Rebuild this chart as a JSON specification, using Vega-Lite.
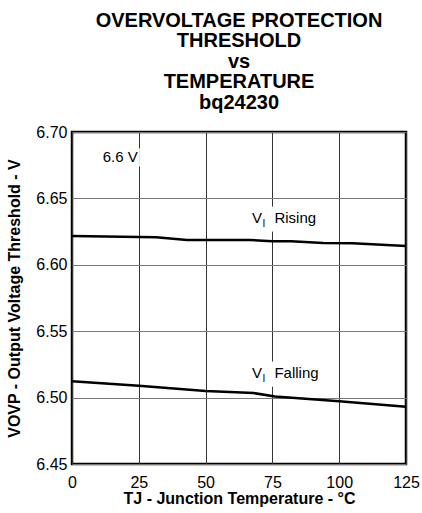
{
  "$schema": "https://vega.github.io/schema/vega-lite/v6.json",
  "width": 334,
  "height": 332,
  "autosize": {"type": "none"},
  "padding": {"left": 72, "top": 132, "right": 16, "bottom": 49},
  "background": "white",
  "title": {
    "text": ["OVERVOLTAGE PROTECTION", "THRESHOLD", "vs", "TEMPERATURE", "bq24230"],
    "font": "Liberation Sans",
    "fontSize": 20,
    "fontWeight": "bold",
    "lineHeight": 20.6,
    "anchor": "middle",
    "offset": 11,
    "color": "black"
  },
  "config": {
    "font": "Liberation Sans",
    "view": {"stroke": "black", "strokeWidth": 2.5},
    "axis": {
      "domain": false,
      "ticks": false,
      "grid": true,
      "gridWidth": 1,
      "labelColor": "black",
      "labelFontSize": 16,
      "labelFont": "Liberation Sans",
      "titleColor": "black",
      "titleFont": "Liberation Sans",
      "titleFontSize": 16,
      "titleFontWeight": "bold",
      "labelFlush": false,
      "labelOverlap": false
    }
  },
  "datasets": {
    "curves": [
      {"series": "Rising", "t": 0, "v": 6.6217},
      {"series": "Rising", "t": 25, "v": 6.6209},
      {"series": "Rising", "t": 31.5, "v": 6.6207},
      {"series": "Rising", "t": 43, "v": 6.6187},
      {"series": "Rising", "t": 66.5, "v": 6.6187},
      {"series": "Rising", "t": 75, "v": 6.6177},
      {"series": "Rising", "t": 82, "v": 6.6177},
      {"series": "Rising", "t": 94, "v": 6.6164},
      {"series": "Rising", "t": 105, "v": 6.6162},
      {"series": "Rising", "t": 125, "v": 6.6142},
      {"series": "Falling", "t": 0, "v": 6.5123},
      {"series": "Falling", "t": 25, "v": 6.509},
      {"series": "Falling", "t": 50, "v": 6.505},
      {"series": "Falling", "t": 68, "v": 6.5034},
      {"series": "Falling", "t": 76, "v": 6.5008},
      {"series": "Falling", "t": 100, "v": 6.4972},
      {"series": "Falling", "t": 125, "v": 6.4932}
    ],
    "masks": [
      {"t": 24.6, "t2": 25.4, "v": 6.6877, "v2": 6.6739},
      {"t": 74.6, "t2": 75.4, "v": 6.6438, "v2": 6.625},
      {"t": 74.6, "t2": 75.4, "v": 6.5272, "v2": 6.5082}
    ],
    "note": [
      {"t": 25, "v": 6.6772, "label": "6.6 V"}
    ],
    "vlabels": [
      {"t": 75, "v": 6.6313, "label": "Rising"},
      {"t": 75, "v": 6.5145, "label": "Falling"}
    ]
  },
  "encoding": {
    "x": {
      "field": "t",
      "type": "quantitative",
      "scale": {"domain": [0, 125], "nice": false, "zero": false},
      "axis": {
        "title": "TJ - Junction Temperature - °C",
        "values": [0, 25, 50, 75, 100, 125],
        "gridColor": "#333333",
        "labelPadding": 10,
        "titlePadding": 0
      }
    },
    "y": {
      "field": "v",
      "type": "quantitative",
      "scale": {"domain": [6.45, 6.7], "nice": false, "zero": false},
      "axis": {
        "title": "VOVP - Output Voltage Threshold - V",
        "values": [6.45, 6.5, 6.55, 6.6, 6.65, 6.7],
        "format": ".2f",
        "gridColor": "#777777",
        "labelPadding": 5,
        "titlePadding": 13
      }
    }
  },
  "layer": [
    {
      "data": {"name": "masks"},
      "mark": {"type": "rect", "fill": "white", "stroke": null},
      "encoding": {
        "x2": {"field": "t2"},
        "y2": {"field": "v2"}
      }
    },
    {
      "data": {"name": "curves"},
      "mark": {"type": "line", "color": "black", "strokeWidth": 2.5},
      "encoding": {
        "detail": {"field": "series", "type": "nominal"}
      }
    },
    {
      "data": {"name": "note"},
      "mark": {"type": "text", "align": "right", "baseline": "alphabetic", "dx": -1, "fontSize": 15, "color": "black", "font": "Liberation Sans"},
      "encoding": {"text": {"field": "label"}}
    },
    {
      "data": {"name": "vlabels"},
      "mark": {"type": "text", "align": "right", "baseline": "alphabetic", "dx": -10.5, "fontSize": 15, "color": "black", "font": "Liberation Sans"},
      "encoding": {"text": {"value": "V"}}
    },
    {
      "data": {"name": "vlabels"},
      "mark": {"type": "text", "align": "left", "baseline": "alphabetic", "dx": -10, "dy": 4, "fontSize": 10, "color": "black", "font": "Liberation Sans"},
      "encoding": {"text": {"value": "I"}}
    },
    {
      "data": {"name": "vlabels"},
      "mark": {"type": "text", "align": "left", "baseline": "alphabetic", "dx": 2, "fontSize": 15, "color": "black", "font": "Liberation Sans"},
      "encoding": {"text": {"field": "label"}}
    }
  ]
}
